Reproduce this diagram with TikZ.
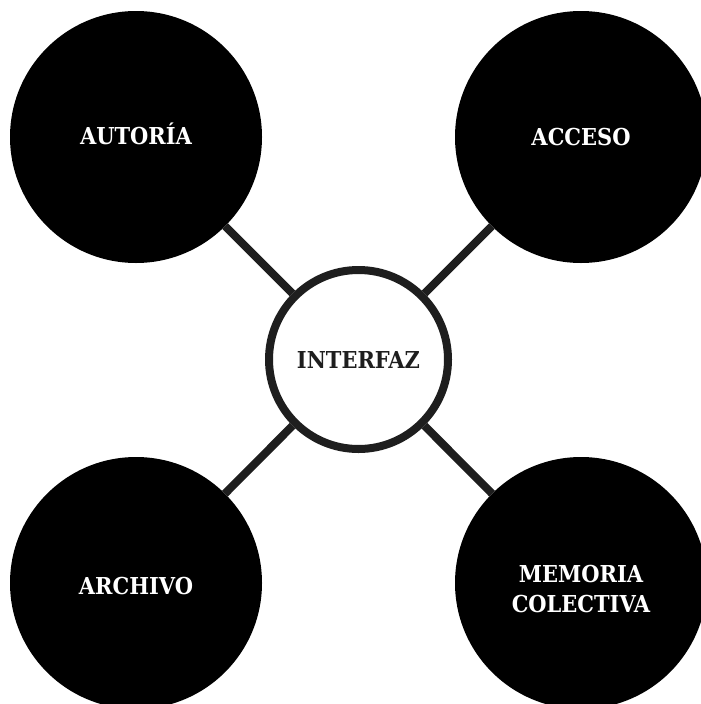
\documentclass[tikz,border=0pt]{standalone}
\usepackage{fontspec}
\setmainfont{DejaVu Serif Condensed}
\definecolor{ink}{HTML}{1E1E1E}
\begin{document}
\begin{tikzpicture}[x=1pt,y=-1pt,
  blackball/.style={circle,fill=black,draw=none,minimum size=252pt,inner sep=0pt,
    text=white,font=\fontsize{23.3}{30}\selectfont\bfseries,align=center,
    text height=17pt,text depth=0pt},
  hubball/.style={circle,fill=white,draw=ink,line width=8pt,minimum size=179pt,inner sep=0pt,
    text=ink,font=\fontsize{23.3}{30}\selectfont\bfseries,text height=17pt,text depth=0pt},
  link/.style={draw=ink,line width=8pt}]
\useasboundingbox (0,0) rectangle (701,704);
\node[blackball,text height=15pt] (aut) at (136,137) {AUTORÍA};
\node[blackball] (acc) at (581,137) {ACCESO};
\node[blackball,text height=23pt] (arc) at (136,583) {ARCHIVO};
\node[blackball,text height=58pt,text depth=0pt] (mem) at (581,583) {MEMORIA\\COLECTIVA};
\node[hubball] (int) at (358.5,359.5) {INTERFAZ};
\draw[link] (aut) -- (int);
\draw[link] (acc) -- (int);
\draw[link] (arc) -- (int);
\draw[link] (mem) -- (int);
\end{tikzpicture}
\end{document}
